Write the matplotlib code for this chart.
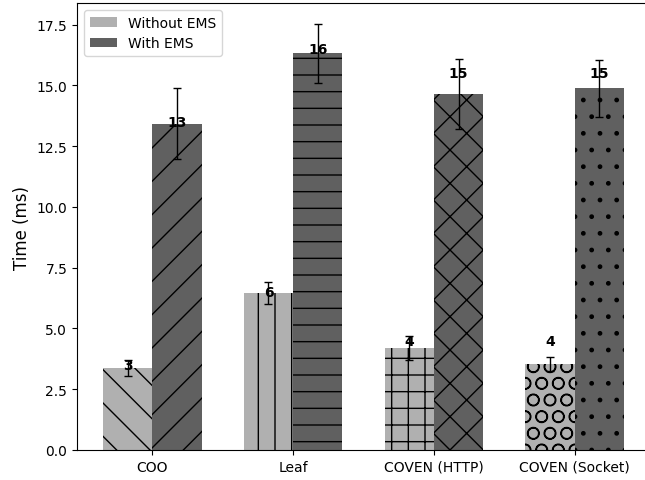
import numpy as np
import matplotlib
matplotlib.use("Agg")
import matplotlib.pyplot as plt
from matplotlib.patches import Patch

# Data
systems = ["COO", "Leaf", "COVEN (HTTP)", "COVEN (Socket)"]
without_ems = [3.37, 6.46, 4.19, 3.53]
without_err = [0.33, 0.46, 0.49, 0.30]
with_ems = [13.42, 16.31, 14.63, 14.87]
with_err = [1.46, 1.20, 1.44, 1.16]

hatches_without = ["\\", "|", "+", "O"]
hatches_with = ["/", "-", "x", "."]

color_without = "#b0b0b0"
color_with = "#606060"

fig = plt.figure(figsize=(6.45, 4.81), dpi=100)
ax = fig.add_axes([77 / 645, 30 / 481, 573 / 645, 447 / 481])

x = np.arange(len(systems))
width = 0.35
err_kw = {"elinewidth": 1, "capthick": 1}

for i in range(len(systems)):
    ax.bar(x[i] - width / 2, without_ems[i], width, yerr=without_err[i],
           color=color_without, hatch=hatches_without[i], edgecolor="black",
           linewidth=0, capsize=3, ecolor="black", error_kw=err_kw)
    ax.bar(x[i] + width / 2, with_ems[i], width, yerr=with_err[i],
           color=color_with, hatch=hatches_with[i], edgecolor="black",
           linewidth=0, capsize=3, ecolor="black", error_kw=err_kw)

    # rounded value labels
    ax.text(x[i] - width / 2, round(without_ems[i]) + 0.5, str(round(without_ems[i])),
            ha="center", va="center", fontweight="bold", fontsize=10)
    ax.text(x[i] + width / 2, round(with_ems[i]) + 0.5, str(round(with_ems[i])),
            ha="center", va="center", fontweight="bold", fontsize=10)

ax.set_xticks(x)
ax.set_xticklabels(systems)
ax.set_ylabel("Time (ms)", fontsize=12)
# the right edge of the axes falls outside the picture in the original
ax.spines["right"].set_visible(False)

handles = [Patch(facecolor=color_without, label="Without EMS"),
           Patch(facecolor=color_with, label="With EMS")]
ax.legend(handles=handles, loc="upper left")

plt.savefig("out.png", dpi=100)
